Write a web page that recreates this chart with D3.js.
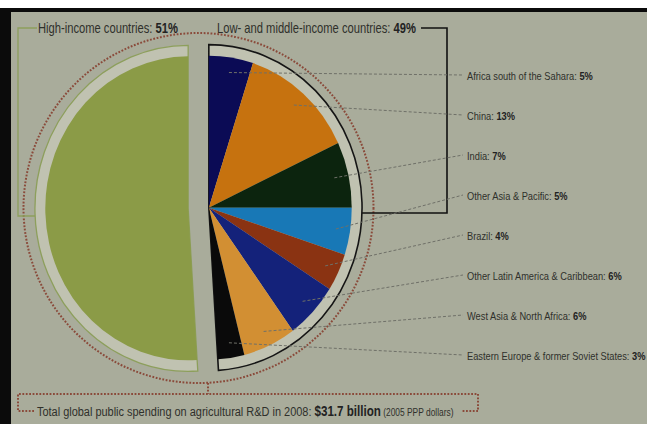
<!DOCTYPE html>
<html>
<head>
<meta charset="utf-8">
<script src="https://cdn.jsdelivr.net/npm/d3@7"></script>
<style>
  html, body { margin: 0; padding: 0; background: #ffffff; }
  text { font-family: "Liberation Sans", Arial, sans-serif; }
</style>
</head>
<body>
<div id="chart"></div>
<script>
// Public spending on agricultural R&D in 2008, split by country group.
// Low/middle-income half is broken down by region.

const groups      = ["Low- and middle-income countries", "High-income countries"];
const groupShares = [49, 51];

const regions = [
  "Africa south of the Sahara",
  "China",
  "India",
  "Other Asia & Pacific",
  "Brazil",
  "Other Latin America & Caribbean",
  "West Asia & North Africa",
  "Eastern Europe & former Soviet States"
];
const regionShares = [5, 13, 7, 5, 4, 6, 6, 3];
const regionColors = ["#0b0b55", "#c6720f", "#0c240e", "#1878b6", "#8a3312", "#14227a", "#d28f33", "#0a0a0a"];

const totalLabel = "Total global public spending on agricultural R&D in 2008: ";
const totalValue = "$31.7 billion";
const totalNote  = "(2005 PPP dollars)";


const width  = 647;
const height = 424;
const cx = 198.5, cy = 208;   // centre of the whole pie
const squash = 0.94;          // the source pie is a bit narrower than tall
const radius = 152;
const outlineRadius = 163;
const explode = 11;
const narrow = 0.8;           // fake a condensed face, none is installed

const svg = d3.select("#chart")
  .append("svg")
  .attr("width", width)
  .attr("height", height)
  .style("display", "block");

svg.append("rect").attr("width", width).attr("height", height).attr("fill", "#a9ac9b");
svg.append("rect").attr("width", width).attr("height", 8).attr("fill", "#ffffff");
svg.append("rect").attr("y", 8).attr("width", width).attr("height", 4).attr("fill", "#0b0b0b");
svg.append("rect").attr("y", 8).attr("width", 11).attr("height", height).attr("fill", "#0b0b0b");

// text squeezed sideways, anchored at its left end
function narrowText(x, y, size) {
  return svg.append("text")
    .attr("transform", `translate(${x},${y}) scale(${narrow},1)`)
    .attr("dy", "0.35em")
    .attr("font-size", size + "px")
    .attr("fill", "#2f302b");
}

// dotted ring round everything
svg.append("circle")
  .attr("cx", cx)
  .attr("cy", cy)
  .attr("r", 175)
  .attr("fill", "none")
  .attr("stroke", "#8a4a3a")
  .attr("stroke-width", 2)
  .attr("stroke-dasharray", "1.8 1.6");

// bracket lines to the group titles
svg.append("path")
  .attr("d", "M37,28 H18 V216 H35")
  .attr("fill", "none")
  .attr("stroke", "#8d9f5c")
  .attr("stroke-width", 1.3);

svg.append("path")
  .attr("d", "M421,28 H447 V213 H362")
  .attr("fill", "none")
  .attr("stroke", "#111111")
  .attr("stroke-width", 1.6);


const groupPie = d3.pie().sort(null)(groupShares);
const lowArc  = groupPie[0];
const highArc = groupPie[1];

const regionPie = d3.pie().sort(null)
  .startAngle(lowArc.startAngle)
  .endAngle(lowArc.endAngle)(regionShares);

const arcInner   = d3.arc().innerRadius(0).outerRadius(radius);
const arcOutline = d3.arc().innerRadius(0).outerRadius(outlineRadius);
const arcLeader  = d3.arc().innerRadius(radius * 0.9).outerRadius(radius * 0.9);

const pieGroup = svg.append("g")
  .attr("transform", `translate(${cx},${cy}) scale(${squash},1)`);

function offsetOf(slice) {
  const mid = (slice.startAngle + slice.endAngle) / 2;
  return [Math.sin(mid) * explode, -Math.cos(mid) * explode];
}

const lowOff  = offsetOf(lowArc);
const highOff = offsetOf(highArc);

const highG = pieGroup.append("g").attr("transform", `translate(${highOff[0]},${highOff[1]})`);
const lowG  = pieGroup.append("g").attr("transform", `translate(${lowOff[0]},${lowOff[1]})`);

highG.append("path")
  .attr("d", arcOutline(highArc))
  .attr("fill", "#c0c2b1")
  .attr("stroke", "#8d9f5c")
  .attr("stroke-width", 1.3)
  .attr("vector-effect", "non-scaling-stroke");

highG.append("path")
  .attr("d", arcInner(highArc))
  .attr("fill", "#8b9b47");

lowG.append("path")
  .attr("d", arcOutline(lowArc))
  .attr("fill", "#c0c2b1")
  .attr("stroke", "#151515")
  .attr("stroke-width", 1.6)
  .attr("vector-effect", "non-scaling-stroke");

lowG.selectAll("path.region")
  .data(regionPie)
  .join("path")
  .attr("class", "region")
  .attr("d", arcInner)
  .attr("fill", (d, i) => regionColors[i]);


// labels on the right with dashed leaders
const labelY = d3.scalePoint().domain(regions).range([76, 356]);
const labelX = 467;

regionPie.forEach((slice, i) => {
  const c = arcLeader.centroid(slice);
  const x0 = cx + (c[0] + lowOff[0]) * squash;
  const y0 = cy + c[1] + lowOff[1];
  const y1 = labelY(regions[i]);

  svg.append("line")
    .attr("x1", x0).attr("y1", y0)
    .attr("x2", labelX - 4).attr("y2", y1 - 1)
    .attr("stroke", "#6f7068")
    .attr("stroke-width", 1)
    .attr("stroke-dasharray", "3 2");

  const t = narrowText(labelX, y1, 11.6);
  t.append("tspan").text(regions[i] + ": ");
  t.append("tspan").attr("font-weight", "700").attr("fill", "#222").text(regionShares[i] + "%");
});


// group titles
const titleXs = [217, 38];
groups.forEach((g, i) => {
  const t = narrowText(titleXs[i], 28, 14);
  t.append("tspan").text(g + ": ");
  t.append("tspan").attr("font-weight", "700").attr("fill", "#222").text(groupShares[i] + "%");
});


// total box at the bottom
svg.append("line")
  .attr("x1", 208).attr("x2", 208)
  .attr("y1", 383).attr("y2", 394)
  .attr("stroke", "#8a4a3a")
  .attr("stroke-width", 2)
  .attr("stroke-dasharray", "1.8 1.6");

svg.append("path")
  .attr("d", "M34,411 H18 V394 H478 V411 H461")
  .attr("fill", "none")
  .attr("stroke", "#8a4a3a")
  .attr("stroke-width", 2)
  .attr("stroke-dasharray", "1.8 1.6");

const total = narrowText(37, 411, 13.7);
total.append("tspan").text(totalLabel);
total.append("tspan").attr("font-weight", "700").attr("font-size", "14.5px").attr("fill", "#222").text(totalValue);
total.append("tspan").attr("font-size", "10.5px").text(" " + totalNote);
</script>
</body>
</html>
